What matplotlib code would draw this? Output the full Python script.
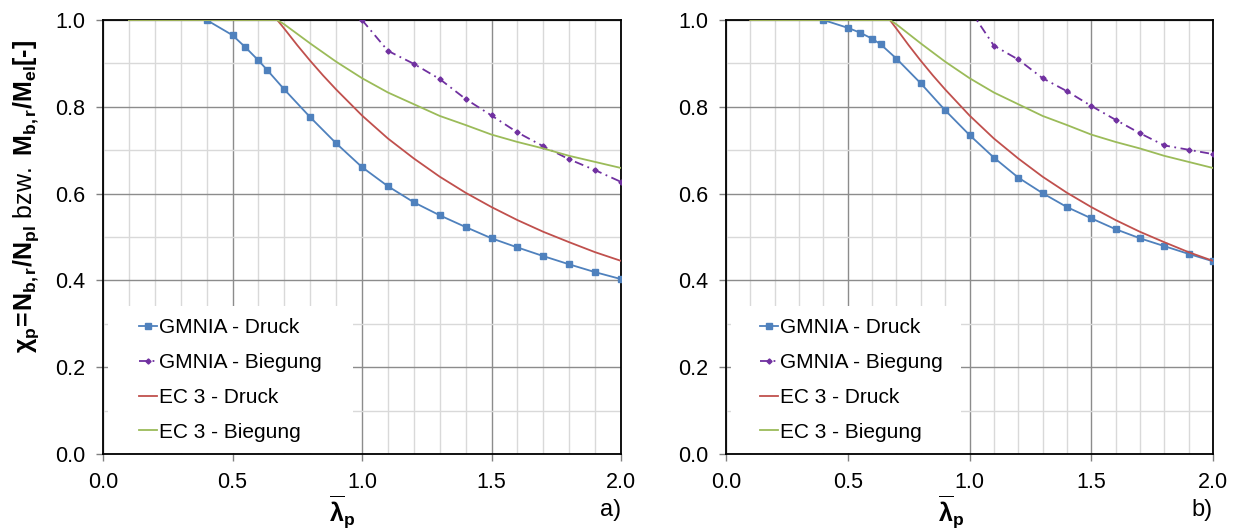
import matplotlib as mpl
mpl.use("Agg")
import matplotlib.pyplot as plt
from matplotlib.patches import Rectangle
from matplotlib.ticker import MultipleLocator

plt.rcParams['font.family'] = ['Liberation Sans', 'DejaVu Sans']
plt.rcParams['mathtext.fontset'] = 'custom'
plt.rcParams['mathtext.rm'] = 'Liberation Sans'
plt.rcParams['mathtext.it'] = 'Liberation Sans:italic'
plt.rcParams['mathtext.bf'] = 'Liberation Sans:bold'

# GMNIA - Druck
lam_gd = [0.4, 0.5, 0.55, 0.6, 0.635, 0.7, 0.8, 0.9, 1.0, 1.1, 1.2, 1.3,
          1.4, 1.5, 1.6, 1.7, 1.8, 1.9, 2.0]
chi_gd_a = [1.0, 0.965, 0.937, 0.907, 0.884, 0.840, 0.776, 0.716, 0.661,
            0.617, 0.580, 0.550, 0.523, 0.497, 0.476, 0.456, 0.437, 0.419,
            0.403]
chi_gd_b = [1.0, 0.982, 0.971, 0.957, 0.944, 0.911, 0.854, 0.792, 0.735,
            0.683, 0.637, 0.601, 0.569, 0.543, 0.518, 0.497, 0.479, 0.461,
            0.444]
# GMNIA - Biegung
lam_gb = [1.0, 1.1, 1.2, 1.3, 1.4, 1.5, 1.6, 1.7, 1.8, 1.9, 2.0]
chi_gb_a = [1.0, 0.929, 0.899, 0.864, 0.818, 0.780, 0.741, 0.709, 0.679,
            0.654, 0.627]
chi_gb_b = [1.025, 0.941, 0.909, 0.866, 0.836, 0.802, 0.770, 0.739, 0.711,
            0.701, 0.691]
# EC 3
lam_ec = [0.1, 0.673, 0.7, 0.75, 0.8, 0.85, 0.9, 1.0, 1.1, 1.2, 1.3, 1.4,
          1.5, 1.6, 1.7, 1.8, 1.9, 2.0]
chi_ec_d = [1.0, 1.0, 0.980, 0.942, 0.906, 0.872, 0.840, 0.780, 0.727,
            0.681, 0.639, 0.602, 0.569, 0.539, 0.512, 0.488, 0.465, 0.445]
chi_ec_b = [1.0, 1.0, 0.990, 0.968, 0.946, 0.925, 0.904, 0.866, 0.833,
            0.806, 0.779, 0.758, 0.736, 0.719, 0.704, 0.687, 0.673, 0.659]

labels = ["GMNIA - Druck", "GMNIA - Biegung", "EC 3 - Druck", "EC 3 - Biegung"]

fig = plt.figure(figsize=(12.37, 5.30), dpi=100)
ax_a = fig.add_axes([103/1237, 76/530, 518/1237, 434/530])
ax_b = fig.add_axes([726/1237, 76/530, 487/1237, 434/530])


def panel(ax, chi_gd, chi_gb, tag):
    ax.set_axisbelow(True)
    ax.plot(lam_gd, chi_gd, '-', c='#4F81BD', lw=1.3, marker='s', ms=4.5,
            label=labels[0], zorder=3)
    ax.plot(lam_gb, chi_gb, c='#7030A0', lw=1.3, ls=(0, (5, 2.5, 1, 2.5)),
            marker='D', ms=2.6, label=labels[1], zorder=3)
    ax.plot(lam_ec, chi_ec_d, '-', c='#C0504D', lw=1.3, label=labels[2],
            zorder=3)
    ax.plot(lam_ec, chi_ec_b, '-', c='#9BBB59', lw=1.3, label=labels[3],
            zorder=3)
    ax.set_xlim(0, 2)
    ax.set_ylim(0, 1)
    ax.xaxis.set_major_locator(MultipleLocator(0.5))
    ax.xaxis.set_minor_locator(MultipleLocator(0.1))
    ax.yaxis.set_major_locator(MultipleLocator(0.2))
    ax.yaxis.set_minor_locator(MultipleLocator(0.1))
    ax.xaxis.set_major_formatter(mpl.ticker.FormatStrFormatter('%.1f'))
    ax.yaxis.set_major_formatter(mpl.ticker.FormatStrFormatter('%.1f'))
    ax.grid(which='minor', color='#d9d9d9', lw=1)
    ax.grid(which='major', color='#8c8c8c', lw=1)
    ax.tick_params(which='major', direction='out', length=5, width=1,
                   labelsize=15.5, pad=8, color='#808080')
    ax.tick_params(which='minor', length=0)
    for sp in ax.spines.values():
        sp.set_linewidth(1.3)
        sp.set_color('black')
    ax.add_patch(Rectangle((0.01, 0.002), 0.472, 0.339,
                           transform=ax.transAxes, facecolor='white',
                           edgecolor='none', zorder=1))
    ax.legend(loc='upper left', bbox_to_anchor=(0.07, 0.313), frameon=False,
              fontsize=15, handlelength=0.85, handletextpad=0.1,
              labelspacing=0.76, borderpad=0, borderaxespad=0)
    ax.text(0.462, -0.154, r"$\mathbf{\overline{\lambda}_p}$", fontsize=18,
            transform=ax.transAxes, ha='center', va='baseline')
    ax.text(1.0, -0.13, tag, fontsize=17, transform=ax.transAxes,
            ha='right', va='center')


panel(ax_a, chi_gd_a, chi_gb_a, "a)")
panel(ax_b, chi_gd_b, chi_gb_b, "b)")

fig.text(0.021, 1 - 196/530,
         r"$\mathbf{\chi_p\!=\!N_{b,r}/N_{pl}}\ \mathrm{bzw.}\ \mathbf{M_{b,r}/M_{el}}$[-]",
         rotation=90, fontsize=18, fontweight='bold', ha='center', va='center')

fig.savefig("out.png", dpi=100)
